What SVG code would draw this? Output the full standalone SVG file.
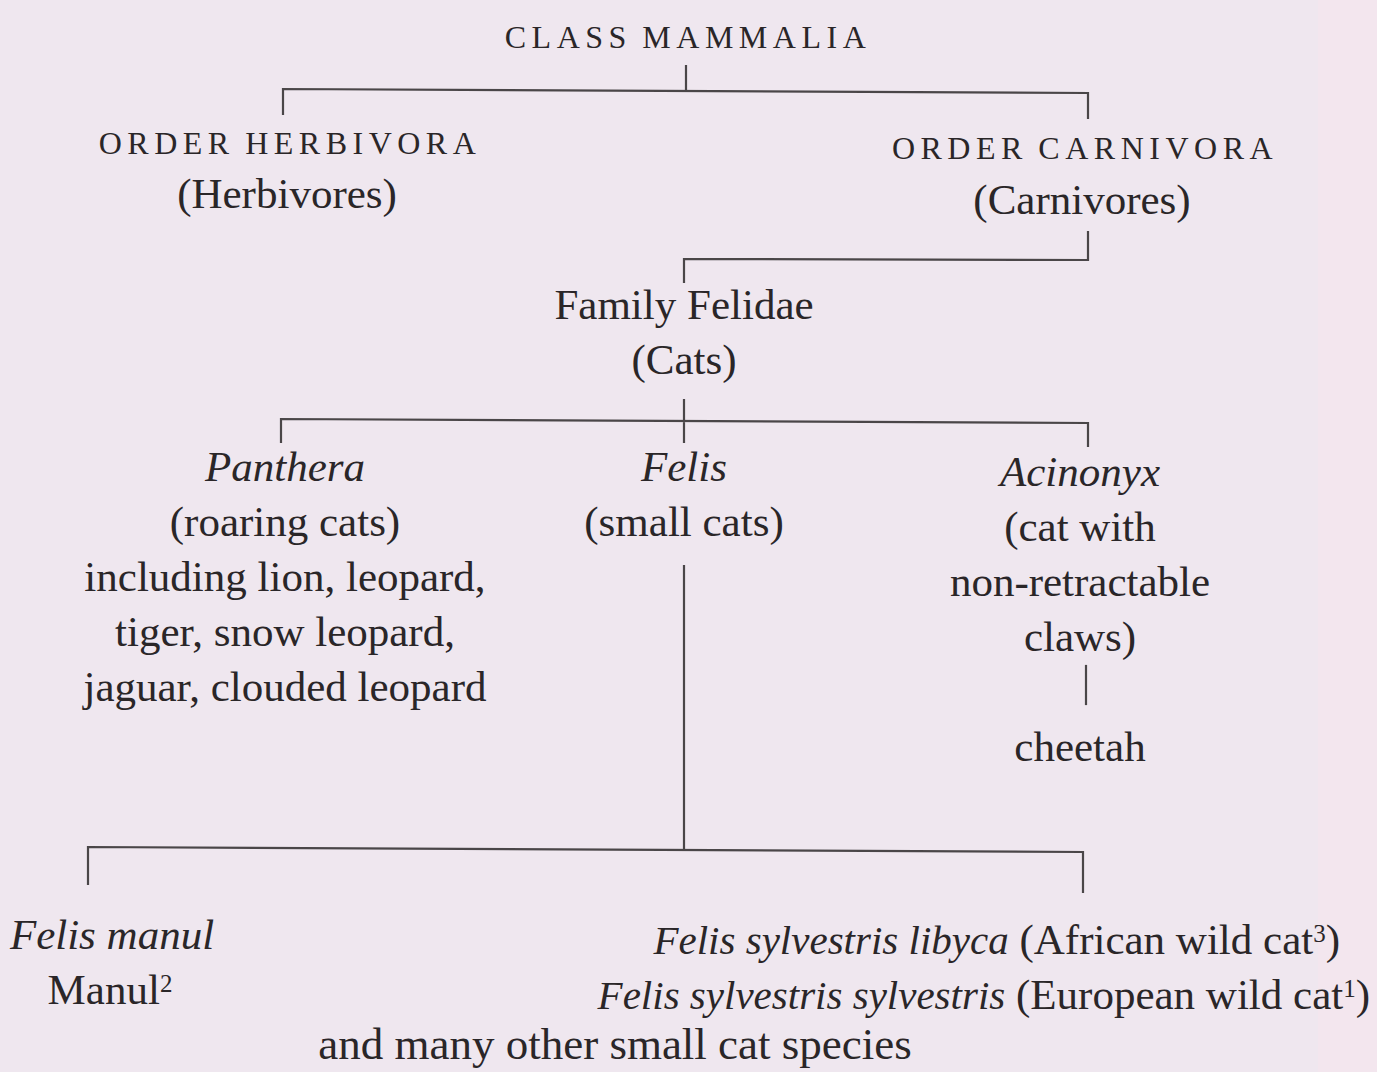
<svg xmlns="http://www.w3.org/2000/svg" width="1377" height="1072" viewBox="0 0 1377 1072">
<style>
text{font-family:"Liberation Serif","Times New Roman",serif;fill:#2a2628;font-size:43px;text-anchor:middle}
.sc{font-size:32px;letter-spacing:5.5px;word-spacing:-3px}
.it{font-style:italic}
.sit{font-style:italic;font-size:41px}
.sup{font-size:25px}
.ln{stroke:#4a4648;stroke-width:2.2;fill:none;stroke-linecap:square}
</style>
<rect x="0" y="0" width="1377" height="1072" fill="#efe7ef"/>
<rect x="1318" y="0" width="59" height="1072" fill="#f3e6ee"/>
<g id="connectors">
<path class="ln" d="M686,66 V90 M283,114 V89 L1088,93 V118"/>
<path class="ln" d="M1088,232 V260 L684,259 V282"/>
<path class="ln" d="M684,400 V442 M281,442 V419 L1088,423 V446"/>
<path class="ln" d="M1086,666 V704"/>
<path class="ln" d="M684,566 V849 M88,884 V847 L1083,852 V892"/>
</g>
<g id="class-mammalia"><text class="sc" x="688" y="48">CLASS MAMMALIA</text></g>
<g id="order-herbivora"><text class="sc" x="290" y="154">ORDER HERBIVORA</text><text x="287" y="208">(Herbivores)</text></g>
<g id="order-carnivora"><text class="sc" x="1085" y="159">ORDER CARNIVORA</text><text x="1082" y="214">(Carnivores)</text></g>
<g id="family-felidae"><text x="684" y="319">Family Felidae</text><text x="684" y="374">(Cats)</text></g>
<g id="panthera"><text class="it" x="285" y="481">Panthera</text><text x="285" y="536">(roaring cats)</text><text x="285" y="591">including lion, leopard,</text><text x="285" y="646">tiger, snow leopard,</text><text x="285" y="701">jaguar, clouded leopard</text></g>
<g id="felis"><text class="it" x="684" y="481">Felis</text><text x="684" y="536">(small cats)</text></g>
<g id="acinonyx"><text class="it" x="1080" y="486">Acinonyx</text><text x="1080" y="541">(cat with</text><text x="1080" y="596">non-retractable</text><text x="1080" y="651">claws)</text></g>
<g id="cheetah"><text x="1080" y="761">cheetah</text></g>
<g id="felis-manul"><text class="it" x="112" y="949">Felis manul</text><text x="110" y="1004">Manul<tspan class="sup" dy="-12">2</tspan></text></g>
<g id="felis-sylvestris"><text x="1340" y="954" style="text-anchor:end"><tspan class="sit">Felis sylvestris libyca</tspan> (African wild cat<tspan class="sup" dy="-12">3</tspan><tspan dy="12">)</tspan></text><text x="1370" y="1009" style="text-anchor:end"><tspan class="sit">Felis sylvestris sylvestris</tspan> (European wild cat<tspan class="sup" dy="-12">1</tspan><tspan dy="12">)</tspan></text></g>
<g id="other-species"><text x="615" y="1059" style="font-size:45px">and many other small cat species</text></g>
</svg>
